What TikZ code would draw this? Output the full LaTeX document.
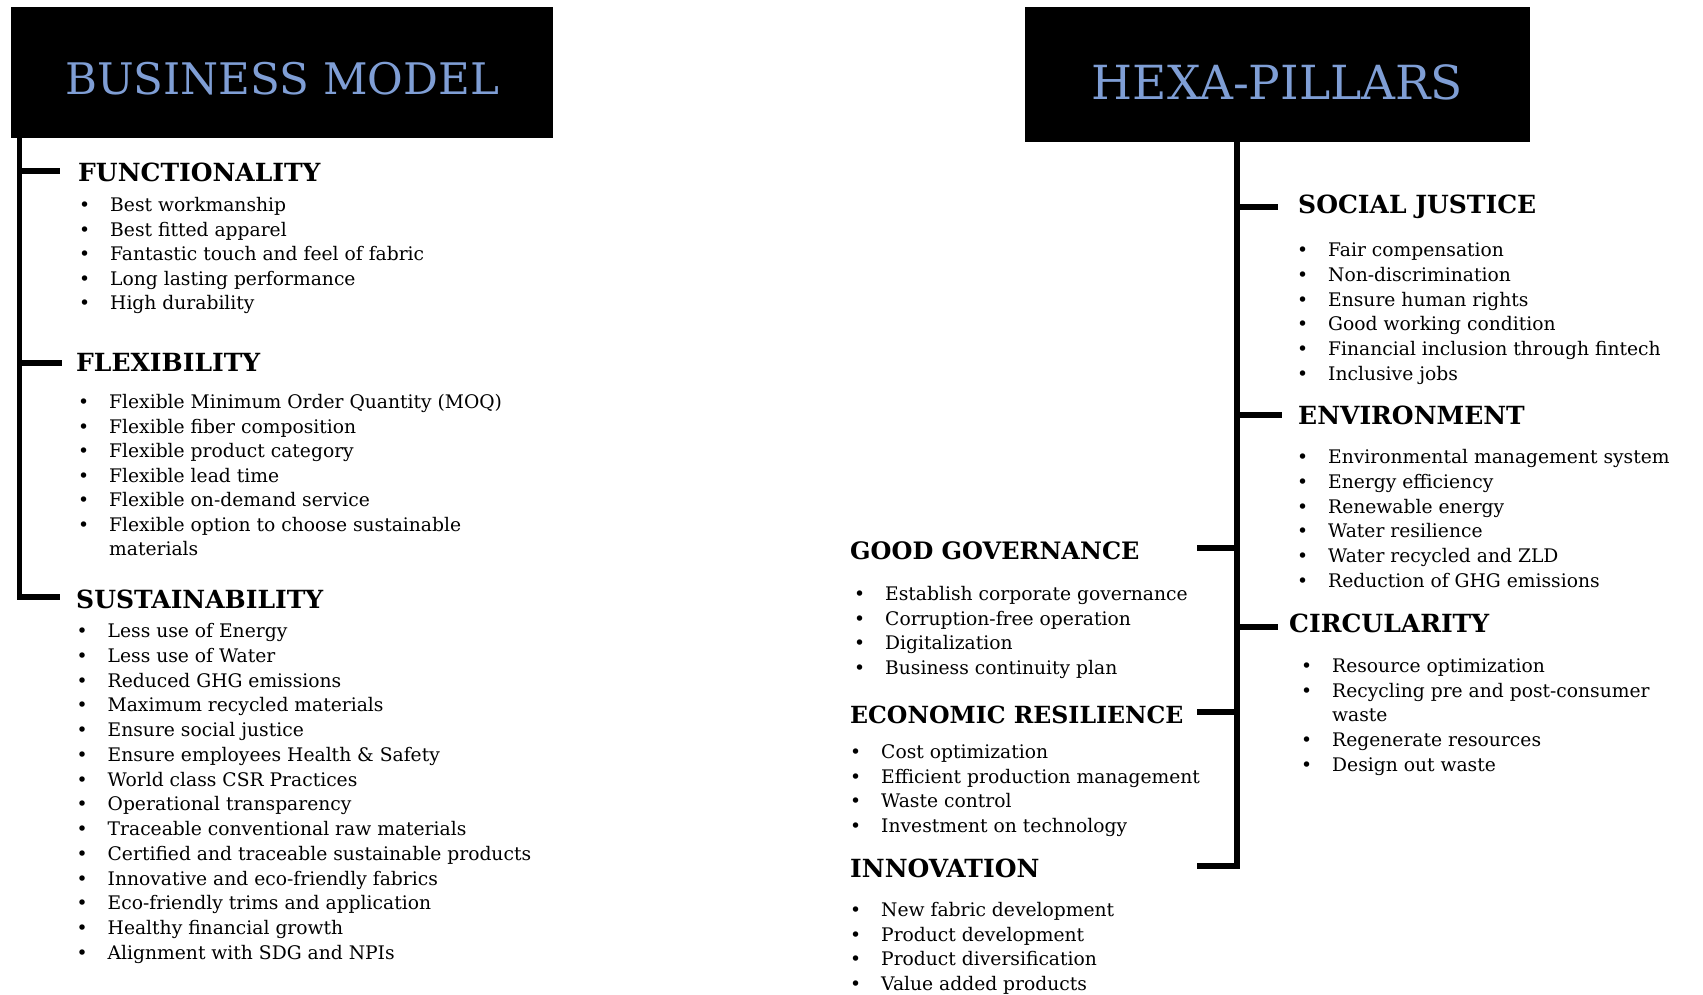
\documentclass[tikz,border=0pt]{standalone}
\usepackage{fontspec}
\setmainfont{DejaVu Serif}
\definecolor{titleblue}{RGB}{127,158,213}
\newcommand{\blt}{\makebox[0pt][r]{\textbullet\hspace{20pt}}}

\begin{document}
\begin{tikzpicture}[x=1pt, y=-1pt,
        title/.style={fill=black, text=titleblue, inner sep=0pt, text depth=0pt},
        head/.style={anchor=west, inner sep=0pt, font=\bfseries\fontsize{25}{29}\selectfont},
        txt/.style={anchor=base west, inner sep=0pt, yshift=-6.5pt, font=\fontsize{18.7}{22}\selectfont},
        item/.style={txt, execute at begin node=\blt},
        stem/.style={line width=5.5pt}
    ]
    \useasboundingbox (0,0) rectangle (1703,994);

    % left tree
    \node[title, minimum width=542pt, minimum height=131pt, text height=43pt,
        font=\fontsize{43.5}{48}\selectfont] (bm) at (282,72.5) {BUSINESS MODEL};
    \node[head] (fun) at (78,172) {FUNCTIONALITY};
    \node[head] (flx) at (76,362) {FLEXIBILITY};
    \node[head] (sus) at (76,599) {SUSTAINABILITY};
    \coordinate (bmroot) at (19.5,138);
    \coordinate (jfun) at (60,171);
    \coordinate (jflx) at (62,363);
    \coordinate (jsus) at (60,597);
    \draw[stem] (bmroot) -- (bmroot |- jsus) -- (jsus);
    \draw[stem] (bmroot |- jfun) -- (jfun);
    \draw[stem] (bmroot |- jflx) -- (jflx);

    \foreach \t [count=\k from 0] in {Best workmanship, Best fitted apparel,
        Fantastic touch and feel of fabric, Long lasting performance, High durability}
        \node[item] (fun\k) at (110,205+24.5*\k) {\t};
    \foreach \t [count=\k from 0] in {Flexible Minimum Order Quantity (MOQ),
        Flexible fiber composition, Flexible product category, Flexible lead time,
        Flexible on-demand service, Flexible option to choose sustainable}
        \node[item] (flx\k) at (109,402+24.5*\k) {\t};
    \node[txt] (flx6b) at (109,549) {materials};
    \foreach \t [count=\k from 0] in {Less use of Energy, Less use of Water,
        Reduced GHG emissions, Maximum recycled materials, Ensure social justice,
        Ensure employees Health \& Safety, World class CSR Practices,
        Operational transparency, Traceable conventional raw materials,
        Certified and traceable sustainable products, Innovative and eco-friendly fabrics,
        Eco-friendly trims and application, Healthy financial growth,
        Alignment with SDG and NPIs}
        \node[item] (sus\k) at (107.5,631+24.75*\k) {\t};

    % right tree
    \node[title, minimum width=505pt, minimum height=135pt, text height=49pt,
        font=\fontsize{47}{52}\selectfont] (hp) at (1277.5,74.5) {HEXA-PILLARS};
    \node[head] (soc) at (1298,207) {SOCIAL JUSTICE};
    \node[head] (env) at (1298,415) {ENVIRONMENT};
    \node[head] (cir) at (1289,623) {CIRCULARITY};
    \node[head, font=\bfseries\fontsize{24}{28}\selectfont] (gov) at (850,551) {GOOD GOVERNANCE};
    \node[head, font=\bfseries\fontsize{23.6}{28}\selectfont] (eco) at (850,715) {ECONOMIC RESILIENCE};
    \node[head] (inn) at (850,868) {INNOVATION};
    \coordinate (hproot) at (1237,142);
    \coordinate (jsoc) at (1278,207);
    \coordinate (jenv) at (1282,415);
    \coordinate (jcir) at (1278,627);
    \coordinate (jgov) at (1197,548);
    \coordinate (jeco) at (1197,712);
    \coordinate (jinn) at (1197,866);
    \draw[stem] (hproot) -- (hproot |- jinn) -- (jinn);
    \draw[stem] (hproot |- jsoc) -- (jsoc);
    \draw[stem] (hproot |- jenv) -- (jenv);
    \draw[stem] (hproot |- jcir) -- (jcir);
    \draw[stem] (hproot |- jgov) -- (jgov);
    \draw[stem] (hproot |- jeco) -- (jeco);

    \foreach \t [count=\k from 0] in {Fair compensation, Non-discrimination,
        Ensure human rights, Good working condition,
        Financial inclusion through fintech, Inclusive jobs}
        \node[item] (soc\k) at (1328,250+24.8*\k) {\t};
    \foreach \t [count=\k from 0] in {Environmental management system,
        Energy efficiency, Renewable energy, Water resilience,
        Water recycled and ZLD, Reduction of GHG emissions}
        \node[item] (env\k) at (1328,457+24.8*\k) {\t};
    \node[item] (cir0) at (1332,666) {Resource optimization};
    \node[item] (cir1) at (1332,691) {Recycling pre and post-consumer};
    \node[txt] (cir1b) at (1332,715) {waste};
    \node[item] (cir2) at (1332,740) {Regenerate resources};
    \node[item] (cir3) at (1332,765) {Design out waste};
    \foreach \t [count=\k from 0] in {Establish corporate governance,
        Corruption-free operation, Digitalization, Business continuity plan}
        \node[item] (gov\k) at (885,594+24.7*\k) {\t};
    \foreach \t [count=\k from 0] in {Cost optimization,
        Efficient production management, Waste control, Investment on technology}
        \node[item] (eco\k) at (881,752+24.7*\k) {\t};
    \foreach \t [count=\k from 0] in {New fabric development,
        Product development, Product diversification, Value added products}
        \node[item] (inn\k) at (881,910+24.5*\k) {\t};
\end{tikzpicture}
\end{document}
